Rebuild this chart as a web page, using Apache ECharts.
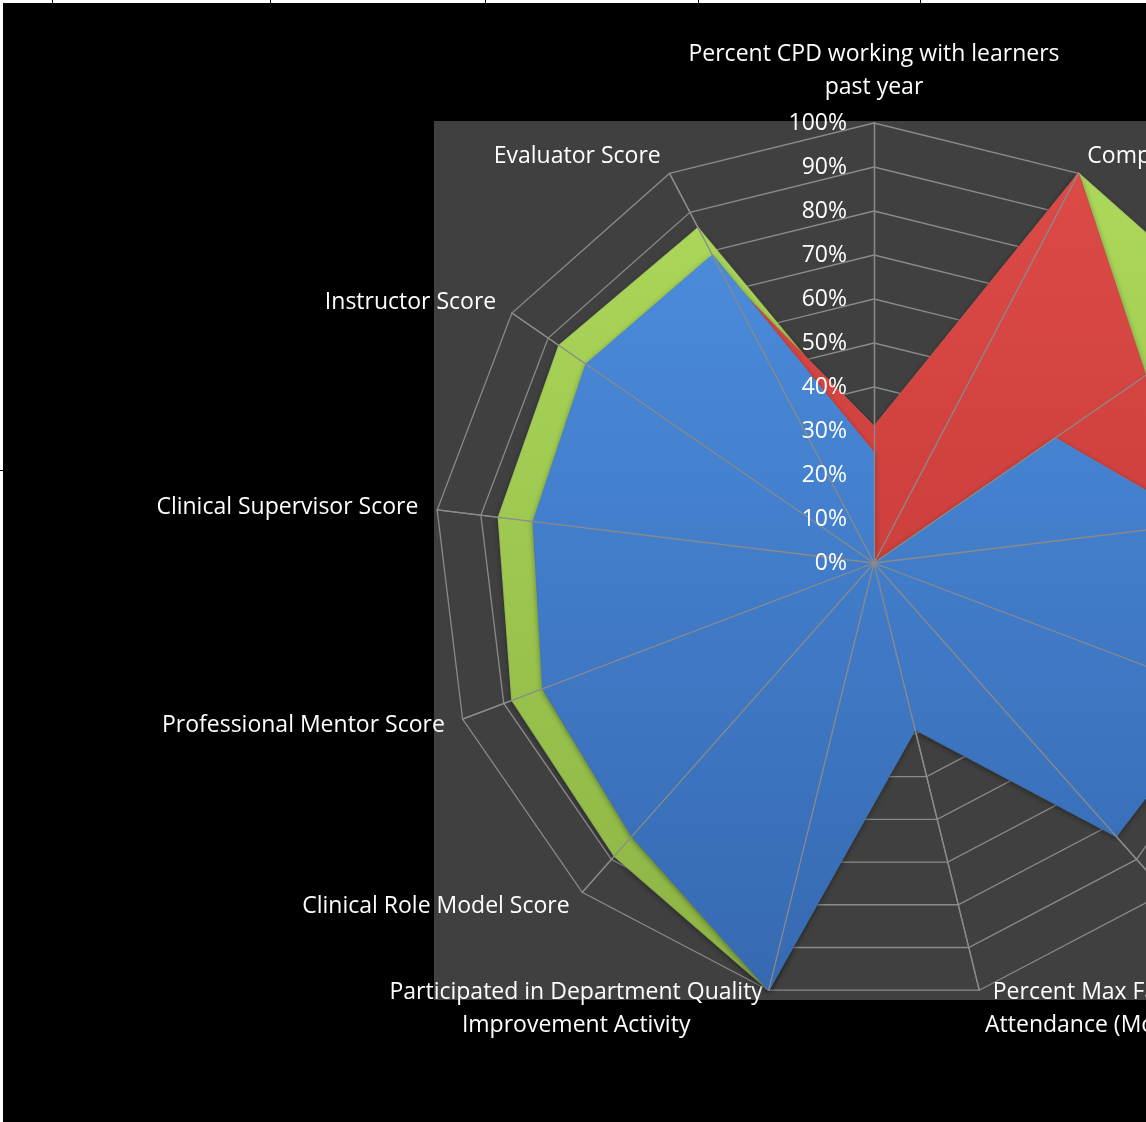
<!DOCTYPE html>
<html><head><meta charset="utf-8">
<script src="https://cdn.jsdelivr.net/npm/echarts@6/dist/echarts.min.js"></script>
<style>html,body{margin:0;padding:0;background:#fff;overflow:hidden}#c{width:1146px;height:1122px}</style>
</head><body><div id="c"></div>
<script>
// Indicators, clockwise starting from the top spoke
const categories = [
  'Percent CPD working with learners\npast year',
  'Completed Annual CPD Requirement',
  'Percent Time in Clinical Teaching',
  'Learner Feedback Score',
  'Peer Review Score',
  'Percent Max Rounds Attendance',
  'Percent Max Faculty\nAttendance (Monthly)',
  'Participated in Department Quality\nImprovement Activity',
  'Clinical Role Model Score',
  'Professional Mentor Score',
  'Clinical Supervisor Score',
  'Instructor Score',
  'Evaluator Score'
];
const seriesNames = ['Series 1', 'Series 2', 'Series 3'];
const greenValues = [0.28, 1.00, 1.00, 0.70, 0.80, 0.78, 0.35, 1.00, 0.89, 0.88, 0.86, 0.87, 0.86];
const redValues   = [0.31, 1.00, 0.75, 0.70, 0.40, 0.30, 0.20, 0.30, 0.35, 0.40, 0.45, 0.55, 0.75];
const blueValues  = [0.25, 0.00, 0.50, 0.75, 0.85, 0.83, 0.39, 1.00, 0.83, 0.805, 0.78, 0.795, 0.79];
const tickValues = [0, 0.1, 0.2, 0.3, 0.4, 0.5, 0.6, 0.7, 0.8, 0.9, 1.0];

// ECharts lays radar indicators out counter-clockwise: reorder
const toEc = arr => [arr[0]].concat(arr.slice(1).reverse());

const FONT = 'Open Sans';
const FS = 23;
const cv = document.createElement('canvas').getContext('2d');
cv.font = FS + 'px "' + FONT + '"';
const rich = {};
categories.forEach((n, i) => {
  if (n.indexOf('\n') >= 0) {
    const w = Math.max.apply(null, n.split('\n').map(l => cv.measureText(l).width));
    rich['w' + i] = {width: Math.ceil(w) + 2, align: 'center', color: '#fff', fontFamily: FONT, fontSize: FS, lineHeight: 33};
  }
});

const chart = echarts.init(document.getElementById('c'), null, {renderer: 'canvas'});
const lin = (a, b) => ({type: 'linear', x: 0, y: 0, x2: 0, y2: 1, colorStops: [{offset: 0, color: a}, {offset: 1, color: b}]});

const indicators = toEc(categories).map(n => ({name: n, min: 0, max: 1}));

chart.setOption({
  backgroundColor: '#ffffff',
  animation: false,
  graphic: [
    {type: 'rect', z: -100, shape: {x: 3, y: 3, width: 1143, height: 1119}, style: {fill: '#000'}, silent: true},
    {type: 'rect', z: -90, shape: {x: 434, y: 121, width: 712, height: 879}, style: {fill: '#404040'}, silent: true},
    {type: 'rect', z: -80, shape: {x: 52, y: 0, width: 1, height: 4}, style: {fill: '#000'}},
    {type: 'rect', z: -80, shape: {x: 270, y: 0, width: 1, height: 4}, style: {fill: '#000'}},
    {type: 'rect', z: -80, shape: {x: 485, y: 0, width: 1, height: 4}, style: {fill: '#000'}},
    {type: 'rect', z: -80, shape: {x: 698, y: 0, width: 1, height: 4}, style: {fill: '#000'}},
    {type: 'rect', z: -80, shape: {x: 920, y: 0, width: 1, height: 4}, style: {fill: '#000'}},
    {type: 'rect', z: -80, shape: {x: 0, y: 470, width: 4, height: 1}, style: {fill: '#000'}}
  ],
  radar: [
    {
      z: 1,
      center: [874, 563], radius: 440, startAngle: 90, shape: 'polygon', splitNumber: 10,
      indicator: indicators,
      axisName: {
        show: true, color: '#fff', fontFamily: FONT, fontSize: FS, lineHeight: 33,
        formatter: function (name) {
          const i = categories.indexOf(name);
          if (rich['w' + i]) return name.split('\n').map(l => '{w' + i + '|' + l + '}').join('\n');
          return name;
        },
        rich: rich
      },
      nameGap: 19,
      splitLine: {lineStyle: {color: '#8a8a8a', width: 1.3}},
      splitArea: {show: false},
      axisLine: {lineStyle: {color: '#8a8a8a', width: 1.3}}
    },
    {
      z: 6,
      center: [874, 563], radius: 440, startAngle: 90, shape: 'polygon', splitNumber: 10,
      indicator: indicators,
      axisName: {show: false},
      splitLine: {show: false},
      splitArea: {show: false},
      axisLine: {lineStyle: {color: '#8a8a8a', width: 1.3}}
    }
  ],
  grid: {left: 874, top: 123, width: 10, height: 440, z: 8},
  xAxis: {type: 'value', show: false},
  yAxis: {
    type: 'value', min: 0, max: 1, interval: 0.1, z: 8,
    axisLine: {show: false}, axisTick: {show: false}, splitLine: {show: false},
    axisLabel: {
      color: '#fff', fontFamily: FONT, fontSize: FS, margin: 27,
      formatter: v => (tickValues.indexOf(Math.round(v * 10) / 10) >= 0 ? Math.round(v * 100) + '%' : '')
    }
  },
  series: [
    {
      type: 'radar', radarIndex: 0, z: 2, symbol: 'none', name: seriesNames[0],
      lineStyle: {color: '#b8e06a', width: 1.5},
      areaStyle: {opacity: 1, color: lin('#acd85a', '#8db444'), shadowBlur: 6, shadowColor: 'rgba(0,0,0,0.45)', shadowOffsetY: 2},
      data: [{value: toEc(greenValues), name: seriesNames[0]}]
    },
    {
      type: 'radar', radarIndex: 0, z: 3, symbol: 'none', name: seriesNames[1],
      lineStyle: {color: '#e8605a', width: 1.5},
      areaStyle: {opacity: 1, color: lin('#dc4a46', '#c83c3a'), shadowBlur: 6, shadowColor: 'rgba(0,0,0,0.45)', shadowOffsetY: 2},
      data: [{value: toEc(redValues), name: seriesNames[1]}]
    },
    {
      type: 'radar', radarIndex: 0, z: 4, symbol: 'none', name: seriesNames[2],
      lineStyle: {color: '#5a9ae6', width: 1.5},
      areaStyle: {opacity: 1, color: lin('#4a8bda', '#3669b2'), shadowBlur: 6, shadowColor: 'rgba(0,0,0,0.45)', shadowOffsetY: 2},
      data: [{value: toEc(blueValues), name: seriesNames[2]}]
    }
  ]
});
</script></body></html>
